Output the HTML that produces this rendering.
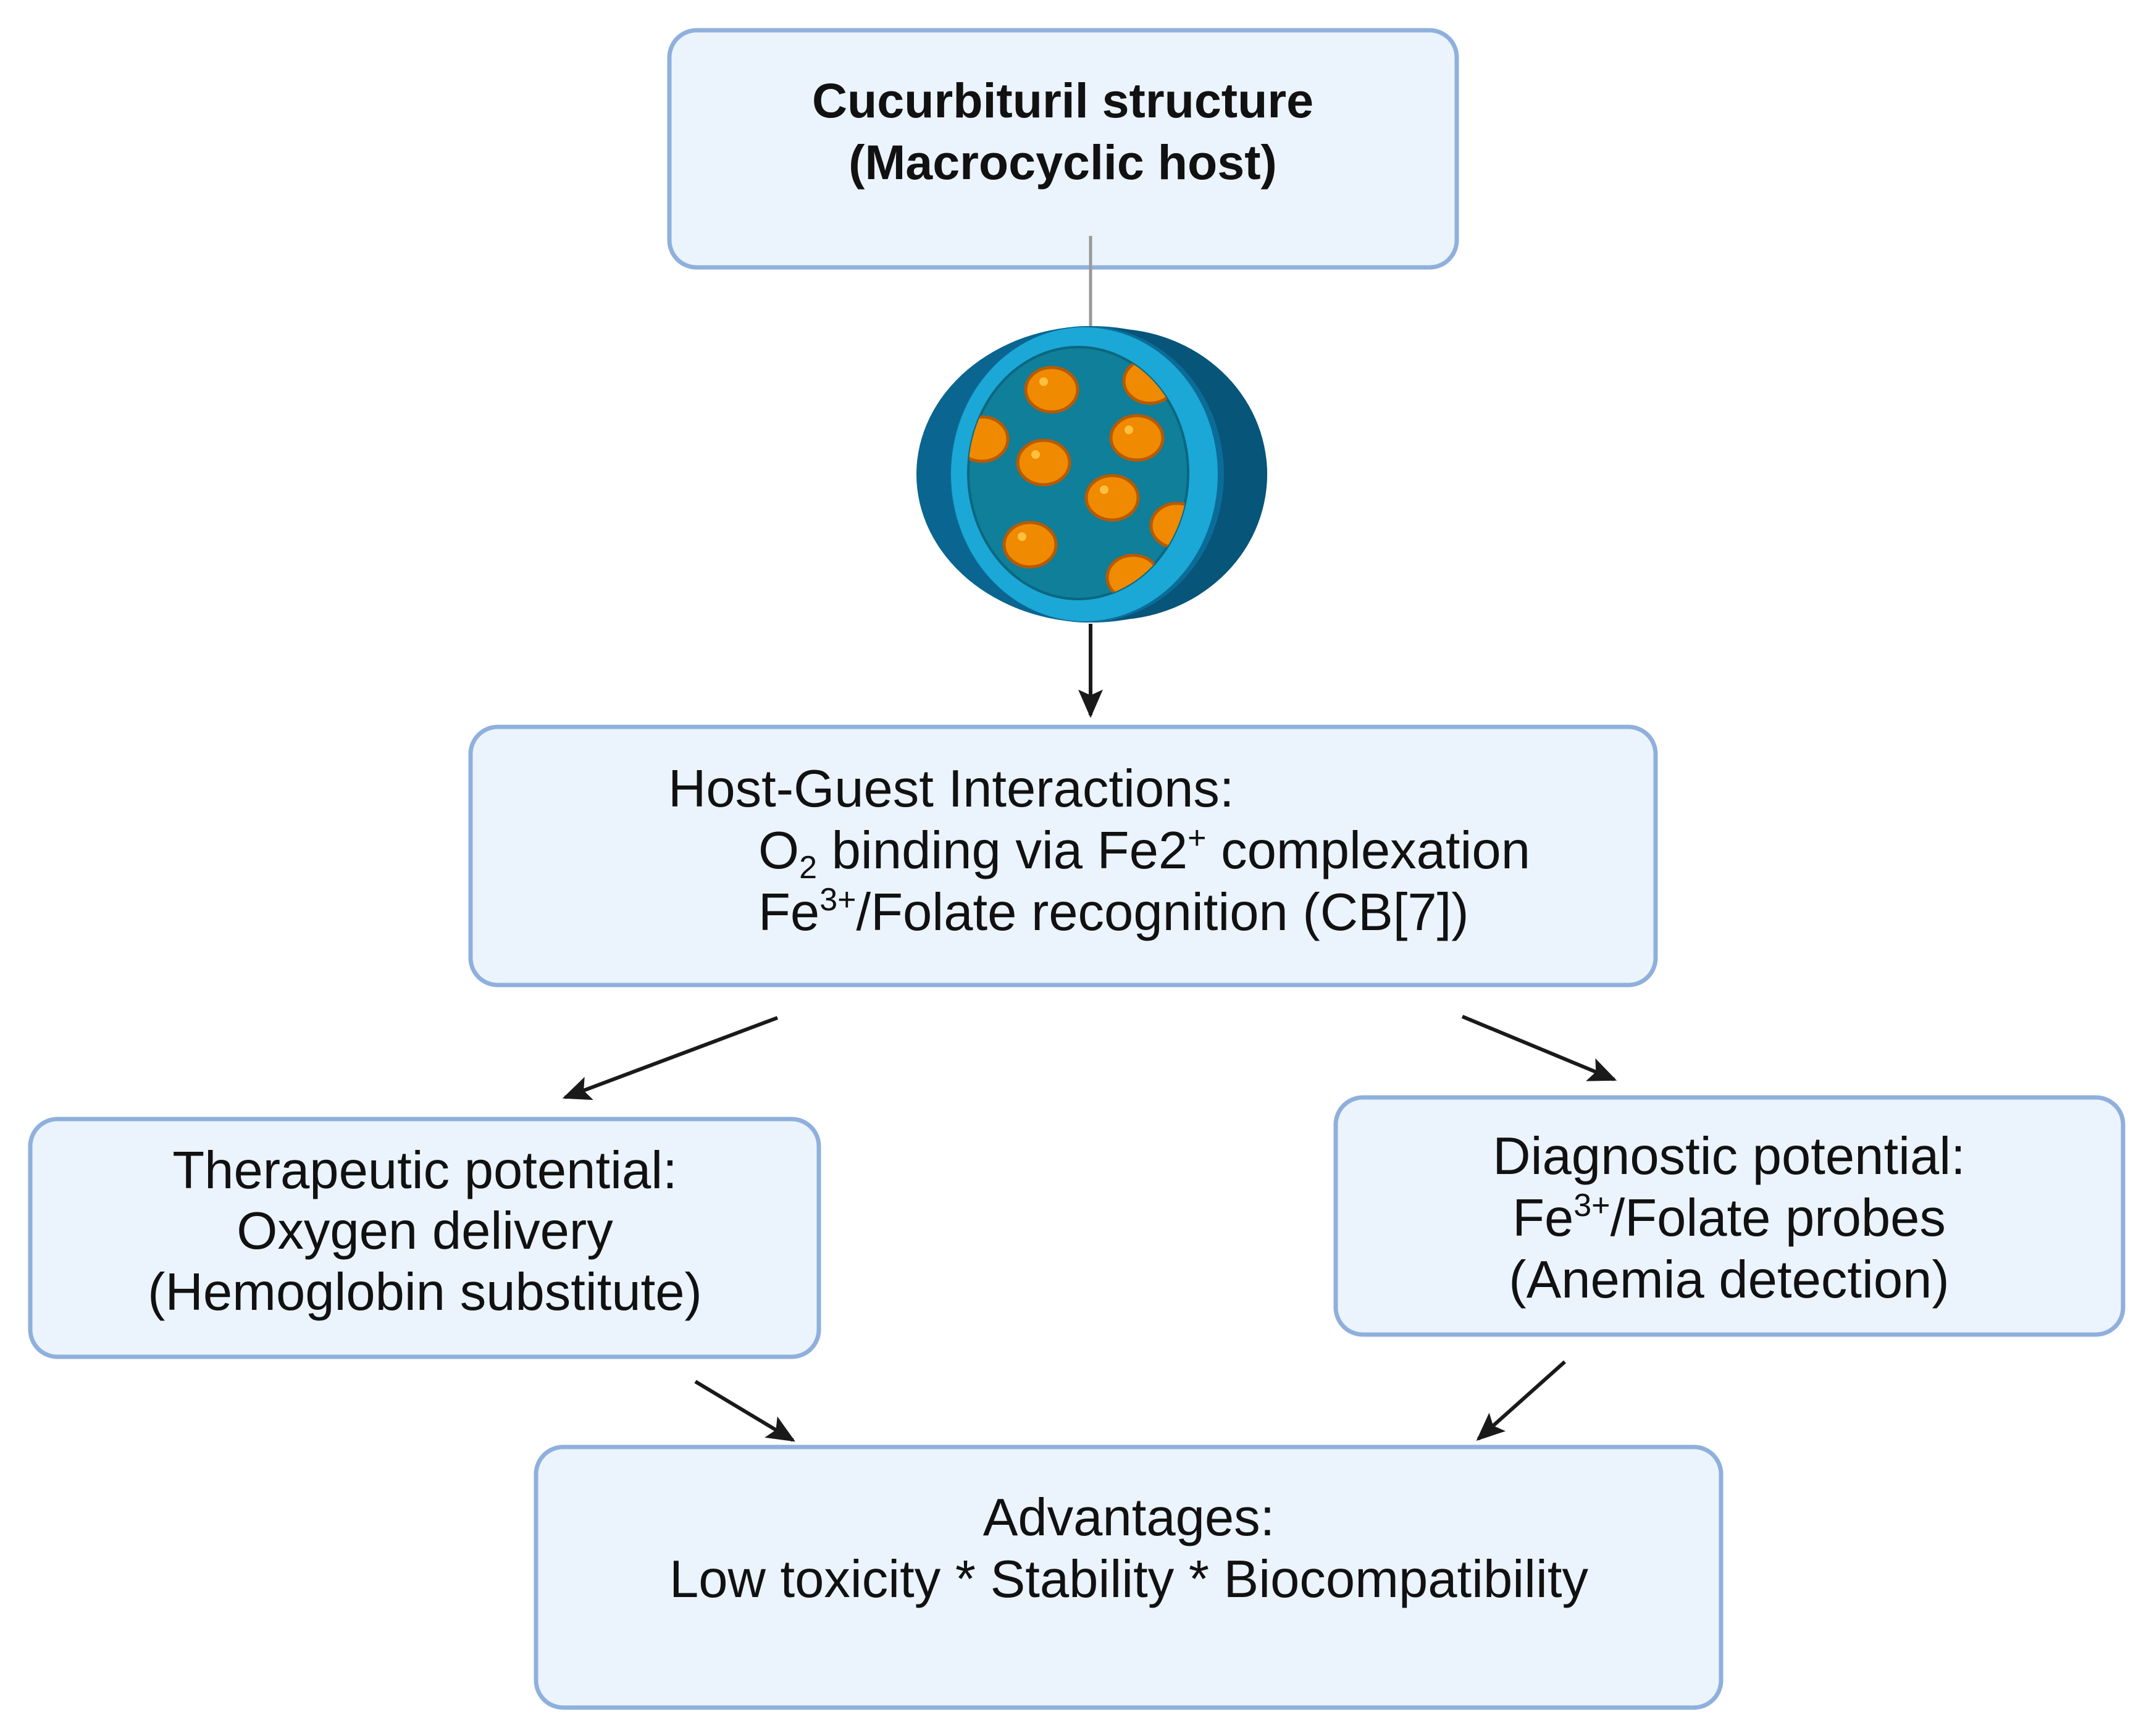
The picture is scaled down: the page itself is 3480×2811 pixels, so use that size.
<!DOCTYPE html>
<html><head><meta charset="utf-8"><style>
html,body{margin:0;padding:0;background:#fff;}
svg{display:block;}
text{font-family:"Liberation Sans",sans-serif;fill:#111;}
</style></head><body>
<svg width="3480" height="2811" viewBox="0 0 3480 2811" xmlns="http://www.w3.org/2000/svg">
<defs>
<marker id="ah" markerWidth="46" markerHeight="40" refX="9" refY="5" orient="auto" markerUnits="userSpaceOnUse" viewBox="0 0 10 10" preserveAspectRatio="none">
<path d="M0,0 L10,5 L0,10 L2,5 z" fill="#1a1a1a"/>
</marker>
<clipPath id="cav"><ellipse cx="1746" cy="766" rx="178" ry="204"/></clipPath>
</defs>
<g fill="#ebf3fc" stroke="#8fb0dc" stroke-width="7">
<rect x="1084" y="49" width="1275" height="384" rx="44"/>
<rect x="762" y="1177" width="1919" height="418" rx="44"/>
<rect x="49" y="1812" width="1277" height="385" rx="44"/>
<rect x="2163" y="1777" width="1275" height="384" rx="44"/>
<rect x="868" y="2343" width="1919" height="422" rx="44"/>
</g>
<line x1="1766" y1="382" x2="1766" y2="530" stroke="#999" stroke-width="5"/>
<!-- sphere -->
<ellipse cx="1768" cy="768" rx="284" ry="240" fill="#0a6590"/>
<ellipse cx="1800" cy="768" rx="252" ry="236" fill="#075579"/>
<ellipse cx="1760" cy="768" rx="222" ry="240" fill="#0b6c98"/>
<ellipse cx="1756" cy="768" rx="216" ry="238" fill="#1ba8d6"/>
<ellipse cx="1746" cy="766" rx="178" ry="204" fill="#0f7f9a" stroke="#0b6680" stroke-width="4"/>
<g clip-path="url(#cav)" fill="#f08a00" stroke="#b85a00" stroke-width="5">
<ellipse cx="1703" cy="631" rx="42" ry="36"/>
<ellipse cx="1841" cy="709" rx="42" ry="36"/>
<ellipse cx="1690" cy="749" rx="42" ry="36"/>
<ellipse cx="1801" cy="806" rx="42" ry="36"/>
<ellipse cx="1668" cy="882" rx="42" ry="36"/>
<ellipse cx="1835" cy="935" rx="42" ry="36"/>
<ellipse cx="1590" cy="711" rx="42" ry="36"/>
<ellipse cx="1862" cy="617" rx="42" ry="36"/>
<ellipse cx="1906" cy="851" rx="42" ry="36"/>
</g>
<g fill="#ffc040">
<circle cx="1690" cy="618" r="7"/><circle cx="1828" cy="696" r="7"/><circle cx="1677" cy="736" r="7"/><circle cx="1788" cy="793" r="7"/><circle cx="1655" cy="869" r="7"/>
</g>
<!-- arrows -->
<g stroke="#1a1a1a" stroke-width="6" fill="none" marker-end="url(#ah)">
<line x1="1766" y1="1010" x2="1766" y2="1158"/>
<line x1="1259" y1="1648" x2="915" y2="1777"/>
<line x1="2368" y1="1646" x2="2614" y2="1748"/>
<line x1="1126" y1="2237" x2="1284" y2="2332"/>
<line x1="2534" y1="2205" x2="2394" y2="2330"/>
</g>
<!-- text -->
<g font-weight="bold" font-size="79" text-anchor="middle">
<text x="1721" y="190">Cucurbituril structure</text>
<text x="1721" y="290">(Macrocyclic host)</text>
</g>
<g font-size="85">
<text x="1082" y="1306">Host-Guest Interactions:</text>
<text x="1228" y="1406">O<tspan font-size="52" dy="16">2</tspan><tspan dy="-16"> binding via Fe2</tspan><tspan font-size="52" dy="-32">+</tspan><tspan dy="32"> complexation</tspan></text>
<text x="1228" y="1506">Fe<tspan font-size="52" dy="-32">3+</tspan><tspan dy="32">/Folate recognition (CB[7])</tspan></text>
</g>
<g font-size="85" text-anchor="middle">
<text x="688" y="1924">Therapeutic potential:</text>
<text x="688" y="2022">Oxygen delivery</text>
<text x="688" y="2121">(Hemoglobin substitute)</text>
<text x="2800" y="1901">Diagnostic potential:</text>
<text x="2800" y="2001">Fe<tspan font-size="52" dy="-32">3+</tspan><tspan dy="32">/Folate probes</tspan></text>
<text x="2800" y="2101">(Anemia detection)</text>
<text x="1828" y="2486">Advantages:</text>
<text x="1828" y="2586">Low toxicity * Stability * Biocompatibility</text>
</g>
</svg>
</body></html>
